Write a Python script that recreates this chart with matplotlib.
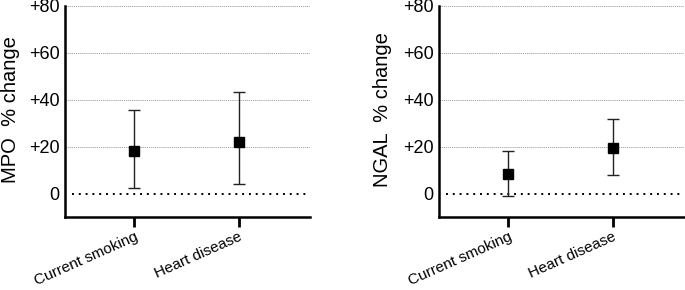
import matplotlib
matplotlib.use("Agg")
import matplotlib.pyplot as plt

plt.rcParams['font.family'] = ['Liberation Sans', 'DejaVu Sans']

categories = ["Current smoking", "Heart disease"]
mpo_mid = [18.0, 22.0]
mpo_low = [2.4, 4.2]
mpo_high = [35.5, 43.3]
ngal_mid = [8.3, 19.3]
ngal_low = [-0.9, 7.8]
ngal_high = [18.1, 32.0]
yticks = [0, 20, 40, 60, 80]
yticklabels = ["0", "+20", "+40", "+60", "+80"]

fig = plt.figure(figsize=(6.85, 2.9), dpi=100)
W, H = 685.0, 290.0


def panel(left, mid, low, high, label, label_x):
    ax = fig.add_axes([left / W, (H - 217) / H, 245 / W, 211 / H])
    xs = list(range(len(categories)))
    yerr = [[m - l for m, l in zip(mid, low)], [h - m for h, m in zip(high, mid)]]
    for y in yticks[1:]:
        ax.axhline(y, color='#999999', lw=0.6, ls=(0, (1.5, 1)), zorder=0)
    ax.axhline(0, color='black', lw=1.4, ls=(0, (1, 2.5)), xmin=0.03, zorder=1)
    ax.errorbar(xs, mid, yerr=yerr, fmt='s', color='black', ms=6.5,
                ecolor='#222222', elinewidth=1.0, capsize=4, capthick=1.0, zorder=3)
    ax.set_xlim(-0.66, 1.68)
    ax.set_ylim(-10, 80)
    ax.set_yticks(yticks)
    ax.set_yticklabels(yticklabels, fontsize=13)
    ax.set_xticks(xs)
    ax.set_xticklabels(categories, rotation=24, ha='right', fontsize=11,
                       rotation_mode='anchor')
    ax.tick_params(axis='y', length=0, pad=4)
    ax.tick_params(axis='x', length=7, width=2, pad=2)
    for s in ['top', 'right']:
        ax.spines[s].set_visible(False)
    for s in ['left', 'bottom']:
        ax.spines[s].set_linewidth(1.8)
    fig.text(label_x / W, 1 - 110 / H, label, rotation=90, ha='center',
             va='center', fontsize=14.5)
    return ax


panel(65, mpo_mid, mpo_low, mpo_high, "MPO  % change", 11)
panel(439, ngal_mid, ngal_low, ngal_high, "NGAL  % change", 383)

fig.savefig("out.png", dpi=100)
